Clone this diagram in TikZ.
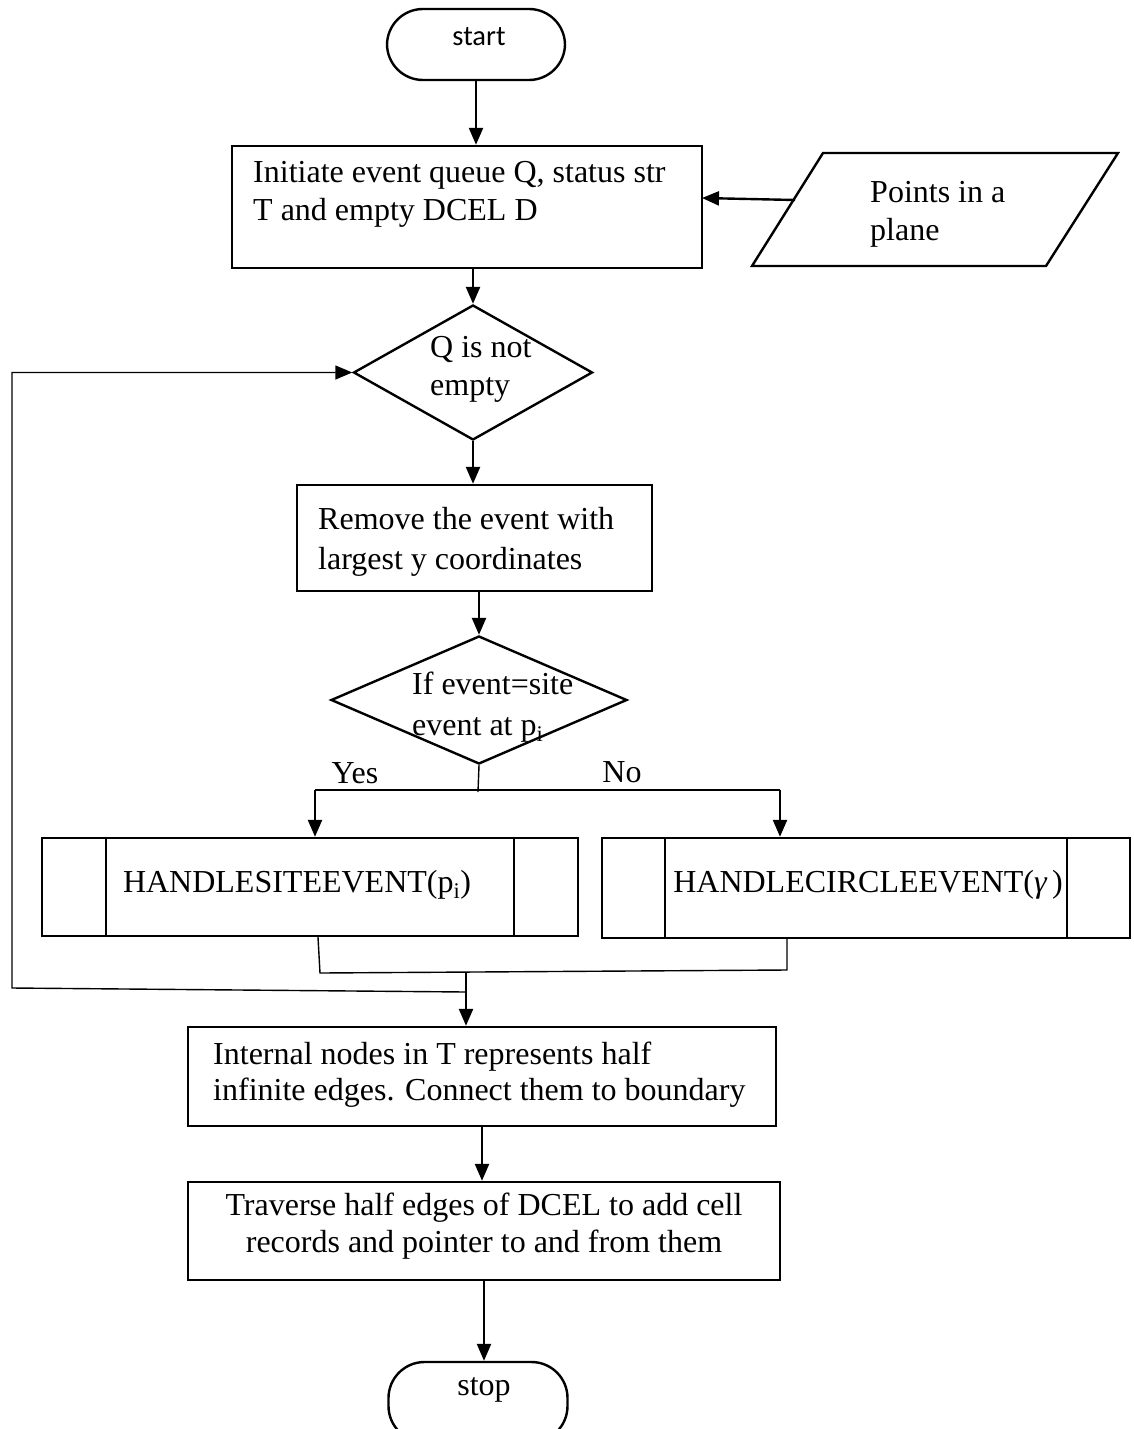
\documentclass[tikz,border=0pt]{standalone}
\usepackage{fontspec}
\setmainfont{Liberation Serif}
\newfontfamily\calibrifont{Carlito}
\usetikzlibrary{arrows.meta,shapes.geometric}

\begin{document}
\begin{tikzpicture}[x=1pt,y=-1pt,
  txt/.style={font=\fontsize{32}{38}\selectfont, inner sep=0pt, align=left},
  proc/.style={draw, line width=2.4pt, rectangle, inner sep=0pt},
  term/.style={draw, line width=2.4pt, rectangle, rounded corners=36pt, inner sep=0pt},
  decision/.style={draw, line width=2.4pt, diamond, inner sep=0pt},
  flow/.style={line width=2.4pt, -{Triangle[width=14pt,length=17pt]}},
  thinline/.style={line width=1.4pt},
  looparrow/.style={line width=1.4pt, -{Triangle[width=14pt,length=17pt]}}]

\useasboundingbox (0,0) rectangle (1134,1429);

% terminal: start
\node[term, minimum width=178pt, minimum height=71pt] (start) at (476,44.5) {};
\node[inner sep=0pt, font=\calibrifont\fontsize{28.5}{32}\selectfont] (starttxt) at (479,37) {start};

% initialisation
\node[proc, minimum width=470pt, minimum height=122pt] (init) at (467,207) {};
\node[txt, anchor=west] (inittxt) at (253,194) {Initiate event queue Q, status str\\T and empty DCEL D};
\draw[flow] (start.south) -- (start.south |- init.north);

% input parallelogram
\coordinate (p1) at (823,153);
\coordinate (p2) at (1118,153);
\coordinate (p3) at (1046,266);
\coordinate (p4) at (752,266);
\draw[line width=2.4pt] (p1) -- (p2) -- (p3) -- (p4) -- cycle;
\node[txt, anchor=west] (paratxt) at (870,214) {Points in a\\plane};
\coordinate (pin) at (795,200);
\coordinate (initin) at (702,198);
\draw[flow] (pin) -- (initin);

% loop test
\node[decision, minimum width=239pt, minimum height=135pt] (d1) at (473,372.5) {};
\node[txt, anchor=west] (d1txt) at (430,369) {Q is not\\empty};
\draw[flow] (d1.north |- init.south) -- (d1.north);

% remove event
\node[proc, minimum width=355pt, minimum height=106pt] (remove) at (474.5,538) {};
\node[txt, anchor=west, font=\fontsize{32}{40}\selectfont] (removetxt) at (318,542) {Remove the event with\\largest y coordinates};
\draw[flow] (d1.south) -- (d1.south |- remove.north);

% event type test
\node[decision, minimum width=296pt, minimum height=128pt] (d2) at (479,700) {};
\node[txt, anchor=west, font=\fontsize{32}{41}\selectfont] (d2txt) at (412,707) {If event=site\\event at p\textsubscript{i}};
\draw[flow] (d2.north |- remove.south) -- (d2.north);

% handlers
\node[proc, minimum width=536pt, minimum height=98pt] (hs) at (310,887) {};
\draw[line width=2.4pt] ([xshift=65pt]hs.north west) -- ([xshift=65pt]hs.south west);
\draw[line width=2.4pt] ([xshift=-65pt]hs.north east) -- ([xshift=-65pt]hs.south east);
\node[txt] (hstxt) at (297,885) {HANDLESITEEVENT(p\textsubscript{i})};

\node[proc, minimum width=528pt, minimum height=100pt] (hc) at (866,888) {};
\draw[line width=2.4pt] ([xshift=64pt]hc.north west) -- ([xshift=64pt]hc.south west);
\draw[line width=2.4pt] ([xshift=-64pt]hc.north east) -- ([xshift=-64pt]hc.south east);
\node[txt] (hctxt) at (868,885) {HANDLECIRCLEEVENT({\itshape γ}\,)};

% branches
\coordinate (fork) at (478,792);
\coordinate (yesc) at (315,790);
\coordinate (noc) at (780,790);
\draw[thinline] (d2.south) -- (fork);
\draw[thinline] (yesc) -- (noc);
\draw[flow] (yesc) -- (yesc |- hs.north);
\draw[flow] (noc) -- (noc |- hc.north);
\node[txt] (yes) at (355,773) {Yes};
\node[txt] (no) at (622,772) {No};

% merge and loop back
\coordinate (jl) at (320,973);
\coordinate (jr) at (787,970);
\coordinate (jm) at (466,972);
\coordinate (lp1) at (466,992);
\coordinate (lp2) at (12,988);
\draw[thinline] ([xshift=8pt]hs.south) -- (jl) -- (jr) -- (hc.south -| jr);
\draw[looparrow] (lp1) -- (lp2) -- (lp2 |- d1.west) -- (d1.west);

% boundary step
\node[proc, minimum width=588pt, minimum height=99pt] (internal) at (482,1076.5) {};
\node[txt, anchor=west, font=\fontsize{32}{36}\selectfont] (internaltxt) at (213,1075) {Internal nodes in T represents half\\infinite edges. Connect them to boundary};
\draw[flow] (jm) -- (jm |- internal.north);

% cell records
\node[proc, minimum width=592pt, minimum height=98pt] (traverse) at (484,1231) {};
\node[txt, align=center, font=\fontsize{32}{37}\selectfont] (traversetxt) at (484,1226) {Traverse half edges of DCEL to add cell\\records and pointer to and from them};
\draw[flow] (internal.south) -- (internal.south |- traverse.north);

% terminal: stop
\node[term, minimum width=179pt, minimum height=80pt] (stop) at (478,1402) {};
\node[inner sep=0pt, font=\fontsize{32}{36}\selectfont] (stoptxt) at (484,1390) {stop};
\draw[flow] (traverse.south) -- (traverse.south |- stop.north);

\end{tikzpicture}
\end{document}
